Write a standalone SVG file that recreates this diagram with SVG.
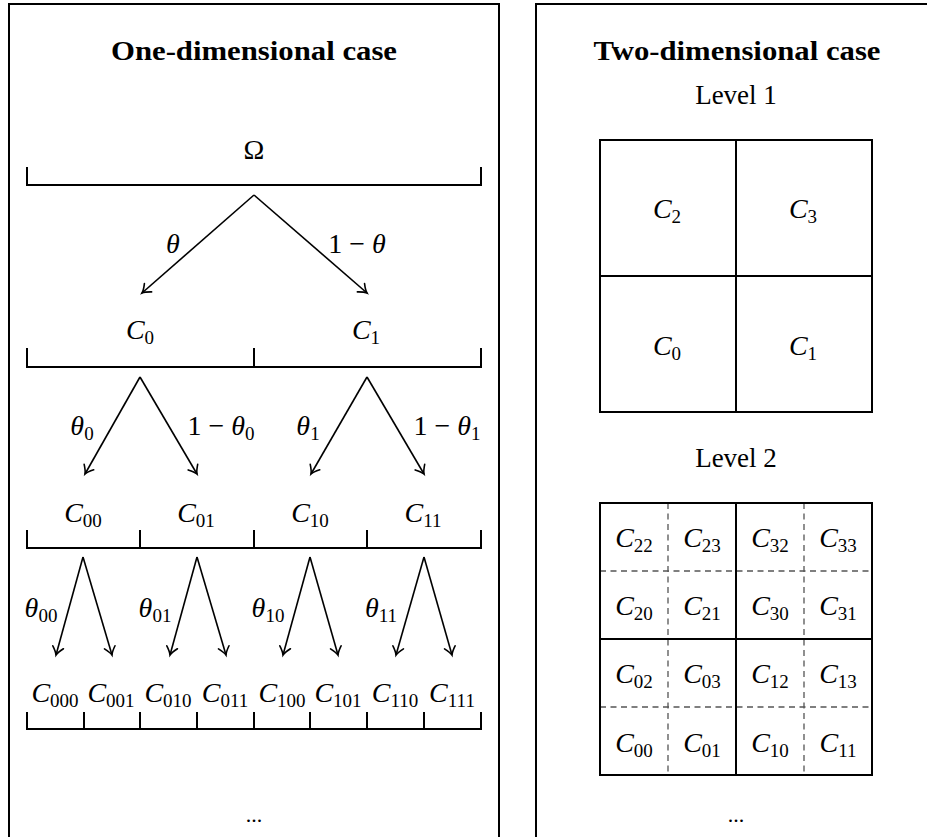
<svg xmlns="http://www.w3.org/2000/svg" width="927" height="837" viewBox="0 0 927 837">
<style>
.t{font-family:"Liberation Serif","DejaVu Serif",serif;font-size:27px;fill:#000}
.b{font-weight:bold}
.m{font-family:"Liberation Serif","DejaVu Serif",serif;font-size:28px;fill:#000;text-anchor:middle}
.i{font-style:italic}
.s{font-size:19px;font-style:normal}
.ln{stroke:#000;stroke-width:2;fill:none;stroke-linecap:square}
.ar{stroke:#000;stroke-width:1.6;fill:none;marker-end:url(#ah)}
.ds{stroke:#555;stroke-width:1.3;stroke-dasharray:6 4.5;fill:none}
.panel{fill:none;stroke:#000;stroke-width:2}
</style>
<defs>
<marker id="ah" markerUnits="userSpaceOnUse" markerWidth="14" markerHeight="14" viewBox="-10 -7 12 14" refX="0" refY="0" orient="auto">
<path d="M -8 -5.5 Q -3 -1 0 0 Q -3 1 -8 5.5" fill="none" stroke="#000" stroke-width="1.6" stroke-linecap="round"/>
</marker>
</defs>

<g id="panel-left">
<rect class="panel" x="9" y="4" width="490" height="900"/>
<text class="t b" x="254" y="60" text-anchor="middle" textLength="286" lengthAdjust="spacingAndGlyphs">One-dimensional case</text>
</g>
<g id="panel-right">
<rect class="panel" x="536" y="4" width="500" height="900"/>
<text class="t b" x="737" y="60" text-anchor="middle" textLength="287" lengthAdjust="spacingAndGlyphs">Two-dimensional case</text>
</g>

<g id="level0">
<path class="ln" d="M27 168 V185 H481 V168"/>
<text class="m" x="254" y="159">Ω</text>
</g>
<g id="level1">
<path class="ln" d="M27 349 V367 H481 V349 M254 349 V367"/>
<text class="m" x="140" y="339"><tspan class="i">C</tspan><tspan class="s" dy="5">0</tspan></text>
<text class="m" x="366" y="339"><tspan class="i">C</tspan><tspan class="s" dy="5">1</tspan></text>
</g>
<g id="level2">
<path class="ln" d="M27 531 V548 H481 V531 M140 531 V548 M254 531 V548 M367 531 V548"/>
<text class="m" x="83" y="522"><tspan class="i">C</tspan><tspan class="s" dy="5">00</tspan></text>
<text class="m" x="196" y="522"><tspan class="i">C</tspan><tspan class="s" dy="5">01</tspan></text>
<text class="m" x="310" y="522"><tspan class="i">C</tspan><tspan class="s" dy="5">10</tspan></text>
<text class="m" x="423" y="522"><tspan class="i">C</tspan><tspan class="s" dy="5">11</tspan></text>
</g>
<g id="level3">
<path class="ln" d="M27 713 V729 H481 V713 M84 713 V729 M140 713 V729 M197 713 V729 M254 713 V729 M310 713 V729 M367 713 V729 M424 713 V729"/>
<text class="m" x="55" y="702"><tspan class="i">C</tspan><tspan class="s" dy="5">000</tspan></text>
<text class="m" x="111" y="702"><tspan class="i">C</tspan><tspan class="s" dy="5">001</tspan></text>
<text class="m" x="168" y="702"><tspan class="i">C</tspan><tspan class="s" dy="5">010</tspan></text>
<text class="m" x="225" y="702"><tspan class="i">C</tspan><tspan class="s" dy="5">011</tspan></text>
<text class="m" x="282" y="702"><tspan class="i">C</tspan><tspan class="s" dy="5">100</tspan></text>
<text class="m" x="338" y="702"><tspan class="i">C</tspan><tspan class="s" dy="5">101</tspan></text>
<text class="m" x="395" y="702"><tspan class="i">C</tspan><tspan class="s" dy="5">110</tspan></text>
<text class="m" x="452" y="702"><tspan class="i">C</tspan><tspan class="s" dy="5">111</tspan></text>
<text class="m" x="254" y="822" style="font-size:22px">...</text>
</g>

<g id="connectors">
<path class="ar" d="M254 195 L142 293"/>
<path class="ar" d="M254 195 L367 293"/>
<path class="ar" d="M140 377 L85 474"/>
<path class="ar" d="M140 377 L197 474"/>
<path class="ar" d="M367 377 L311 474"/>
<path class="ar" d="M367 377 L424 474"/>
<path class="ar" d="M83 557 L56 655"/>
<path class="ar" d="M83 557 L112 655"/>
<path class="ar" d="M197 557 L170 655"/>
<path class="ar" d="M197 557 L226 655"/>
<path class="ar" d="M310 557 L283 655"/>
<path class="ar" d="M310 557 L338 655"/>
<path class="ar" d="M424 557 L396 655"/>
<path class="ar" d="M424 557 L452 655"/>
</g>
<g id="edge-labels">
<text class="m i" x="173" y="253">θ</text>
<text class="m" x="357" y="253">1 − <tspan class="i">θ</tspan></text>
<text class="m" x="82" y="435"><tspan class="i">θ</tspan><tspan class="s" dy="5">0</tspan></text>
<text class="m" x="221" y="435">1 − <tspan class="i">θ</tspan><tspan class="s" dy="5">0</tspan></text>
<text class="m" x="308" y="435"><tspan class="i">θ</tspan><tspan class="s" dy="5">1</tspan></text>
<text class="m" x="447" y="435">1 − <tspan class="i">θ</tspan><tspan class="s" dy="5">1</tspan></text>
<text class="m" x="41" y="617"><tspan class="i">θ</tspan><tspan class="s" dy="5">00</tspan></text>
<text class="m" x="155" y="617"><tspan class="i">θ</tspan><tspan class="s" dy="5">01</tspan></text>
<text class="m" x="268" y="617"><tspan class="i">θ</tspan><tspan class="s" dy="5">10</tspan></text>
<text class="m" x="381" y="617"><tspan class="i">θ</tspan><tspan class="s" dy="5">11</tspan></text>
</g>

<g id="grid-level1">
<text class="m" x="736" y="104" style="font-size:27px">Level 1</text>
<rect class="ln" x="600" y="140" width="272" height="272"/>
<path class="ln" d="M736 140 V412 M600 276 H872"/>
<text class="m" x="667" y="218"><tspan class="i">C</tspan><tspan class="s" dy="5">2</tspan></text>
<text class="m" x="803" y="218"><tspan class="i">C</tspan><tspan class="s" dy="5">3</tspan></text>
<text class="m" x="667" y="355"><tspan class="i">C</tspan><tspan class="s" dy="5">0</tspan></text>
<text class="m" x="803" y="355"><tspan class="i">C</tspan><tspan class="s" dy="5">1</tspan></text>
</g>

<g id="grid-level2">
<text class="m" x="736" y="467" style="font-size:27px">Level 2</text>
<path class="ds" d="M668 503 V775 M804 503 V775 M600 571 H872 M600 707 H872"/>
<rect class="ln" x="600" y="503" width="272" height="272"/>
<path class="ln" d="M736 503 V775 M600 639 H872"/>
<text class="m" x="634" y="547"><tspan class="i">C</tspan><tspan class="s" dy="5">22</tspan></text>
<text class="m" x="702" y="547"><tspan class="i">C</tspan><tspan class="s" dy="5">23</tspan></text>
<text class="m" x="770" y="547"><tspan class="i">C</tspan><tspan class="s" dy="5">32</tspan></text>
<text class="m" x="838" y="547"><tspan class="i">C</tspan><tspan class="s" dy="5">33</tspan></text>
<text class="m" x="634" y="615"><tspan class="i">C</tspan><tspan class="s" dy="5">20</tspan></text>
<text class="m" x="702" y="615"><tspan class="i">C</tspan><tspan class="s" dy="5">21</tspan></text>
<text class="m" x="770" y="615"><tspan class="i">C</tspan><tspan class="s" dy="5">30</tspan></text>
<text class="m" x="838" y="615"><tspan class="i">C</tspan><tspan class="s" dy="5">31</tspan></text>
<text class="m" x="634" y="683"><tspan class="i">C</tspan><tspan class="s" dy="5">02</tspan></text>
<text class="m" x="702" y="683"><tspan class="i">C</tspan><tspan class="s" dy="5">03</tspan></text>
<text class="m" x="770" y="683"><tspan class="i">C</tspan><tspan class="s" dy="5">12</tspan></text>
<text class="m" x="838" y="683"><tspan class="i">C</tspan><tspan class="s" dy="5">13</tspan></text>
<text class="m" x="634" y="752"><tspan class="i">C</tspan><tspan class="s" dy="5">00</tspan></text>
<text class="m" x="702" y="752"><tspan class="i">C</tspan><tspan class="s" dy="5">01</tspan></text>
<text class="m" x="770" y="752"><tspan class="i">C</tspan><tspan class="s" dy="5">10</tspan></text>
<text class="m" x="838" y="752"><tspan class="i">C</tspan><tspan class="s" dy="5">11</tspan></text>
<text class="m" x="736" y="822" style="font-size:22px">...</text>
</g>
</svg>
